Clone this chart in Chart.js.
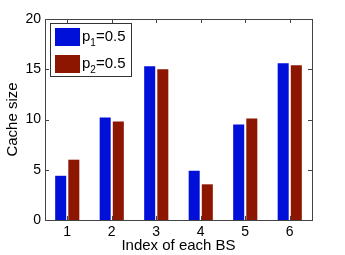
<!DOCTYPE html>
<html>
<head>
<meta charset="utf-8">
<script src="https://cdn.jsdelivr.net/npm/chart.js@4"></script>
<style>
  html, body { margin: 0; padding: 0; background: #fff; }
  #wrap { width: 345px; height: 255px; }
</style>
</head>
<body>
<div id="wrap"><canvas id="c" width="345" height="255"></canvas></div>
<script>
var bsIndex = ['1', '2', '3', '4', '5', '6'];
var cacheP1 = [4.4, 10.2, 15.3, 4.9, 9.5, 15.6];
var cacheP2 = [6.0, 9.8, 15.0, 3.55, 10.1, 15.4];
var yTicks = [0, 5, 10, 15, 20];
var legendItems = [
    { base: 'p', sub: '1', rest: '=0.5' },
    { base: 'p', sub: '2', rest: '=0.5' }
];

var blue = 'rgb(0, 16, 216)';
var red = 'rgb(140, 22, 0)';
var font = '"Liberation Sans", Arial, sans-serif';

// box, inward ticks on all sides and the legend, matlab style
var frame = {
    id: 'frame',
    afterDatasetsDraw: function(chart) {
        var ctx = chart.ctx;
        var a = chart.chartArea;
        var xs = chart.scales.x, ys = chart.scales.y;
        ctx.save();
        ctx.strokeStyle = '#444';
        ctx.lineWidth = 1;
        ctx.strokeRect(Math.round(a.left) + 0.5, Math.round(a.top) + 0.5,
            Math.round(a.right - a.left), Math.round(a.bottom - a.top));
        ctx.beginPath();
        yTicks.forEach(function(v) {
            var y = Math.round(ys.getPixelForValue(v)) + 0.5;
            ctx.moveTo(a.left, y); ctx.lineTo(a.left + 4, y);
            ctx.moveTo(a.right, y); ctx.lineTo(a.right - 4, y);
        });
        bsIndex.forEach(function(c, i) {
            var x = Math.round(xs.getPixelForValue(i)) + 0.5;
            ctx.moveTo(x, a.bottom); ctx.lineTo(x, a.bottom - 4);
            ctx.moveTo(x, a.top); ctx.lineTo(x, a.top + 4);
        });
        ctx.stroke();

        // legend
        var lx = Math.round(a.left) + 5, ly = Math.round(a.top) + 4;
        ctx.fillStyle = '#fff';
        ctx.fillRect(lx, ly, 81, 53);
        ctx.strokeStyle = '#333';
        ctx.strokeRect(lx + 0.5, ly + 0.5, 81, 53);
        var cols = [blue, red];
        legendItems.forEach(function(it, i) {
            var sy = ly + 5 + i * 27;
            ctx.fillStyle = cols[i];
            ctx.fillRect(lx + 5, sy, 25, 18);
            ctx.fillStyle = '#000';
            ctx.textBaseline = 'alphabetic';
            ctx.textAlign = 'left';
            var tx = lx + 32, base = sy + 13;
            ctx.font = '15px ' + font;
            ctx.fillText(it.base, tx, base);
            tx += ctx.measureText(it.base).width;
            ctx.font = '10px ' + font;
            ctx.fillText(it.sub, tx, base + 5);
            tx += ctx.measureText(it.sub).width;
            ctx.font = '15px ' + font;
            ctx.fillText(it.rest, tx, base);
        });
        ctx.restore();
    }
};

new Chart(document.getElementById('c'), {
    type: 'bar',
    data: {
        labels: bsIndex,
        datasets: [
            { label: 'p1=0.5', data: cacheP1, backgroundColor: blue, borderWidth: 0 },
            { label: 'p2=0.5', data: cacheP2, backgroundColor: red, borderWidth: 0 }
        ]
    },
    options: {
        responsive: false,
        animation: false,
        devicePixelRatio: 1,
        categoryPercentage: 0.59,
        barPercentage: 0.84,
        layout: { padding: { top: 19, right: 33, left: 0, bottom: 0 } },
        plugins: {
            legend: { display: false },
            tooltip: { enabled: false }
        },
        scales: {
            x: {
                grid: { display: false, drawTicks: false },
                border: { display: false },
                ticks: { color: '#000', font: { family: font, size: 14 }, padding: 4 },
                title: {
                    display: true, text: 'Index of each BS', color: '#000',
                    font: { family: font, size: 15 }, padding: { top: 0, bottom: 0 }
                },
                afterFit: function(s) { s.height = 35; }
            },
            y: {
                min: 0, max: 20,
                grid: { display: false, drawTicks: false },
                border: { display: false },
                ticks: { stepSize: 5, color: '#000', font: { family: font, size: 14 }, padding: 4 },
                title: {
                    display: true, text: 'Cache size', color: '#000',
                    font: { family: font, size: 15 }, padding: { top: 4, bottom: 0 }
                },
                afterFit: function(s) { s.width = 45; }
            }
        }
    },
    plugins: [frame]
});
</script>
</body>
</html>
